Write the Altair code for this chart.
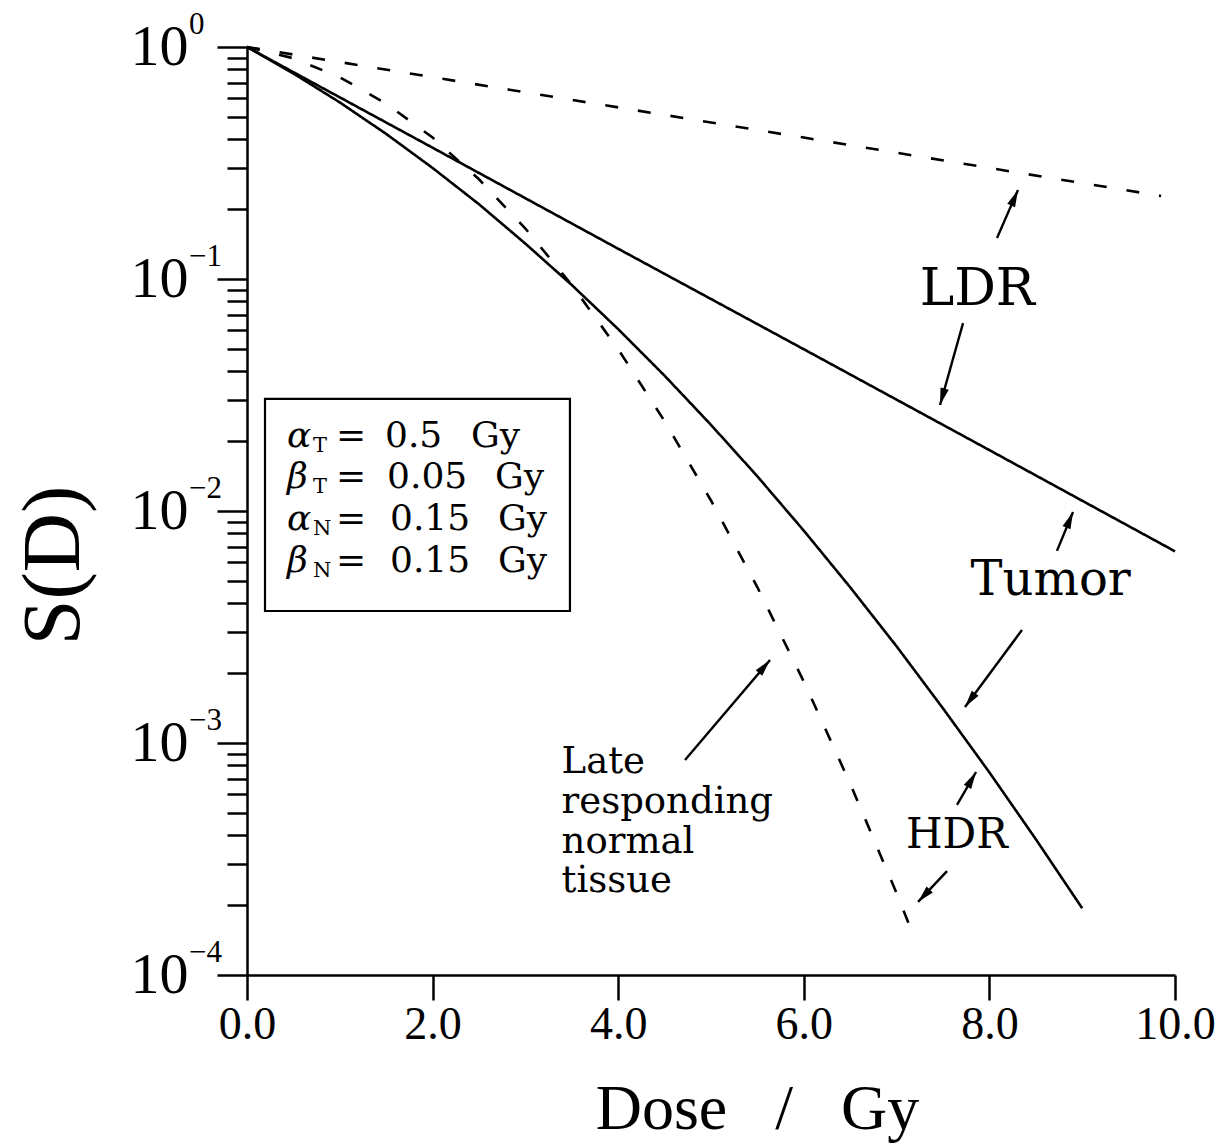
import math
import altair as alt
import pandas as pd

# ---------------- values ----------------
tumor_ldr_dose = [0, 2, 4, 6, 8, 10]
tumor_ldr_surv = [1.0, 0.368, 0.135, 0.0498, 0.0183, 0.0067]

tumor_hdr_dose = [0, 0.5, 1, 1.5, 2, 2.5, 3, 3.5, 4, 4.5, 5, 5.5, 6, 6.5, 7, 7.5, 8, 8.5, 9]
tumor_hdr_surv = [1.0, 0.769, 0.577, 0.422, 0.301, 0.210, 0.142, 0.0942, 0.0608, 0.0383,
                  0.0235, 0.0141, 0.00823, 0.00469, 0.00261, 0.00141, 0.000747, 0.000385, 0.000194]

normal_ldr_dose = [0, 2, 4, 6, 8, 9.85]
normal_ldr_surv = [1.0, 0.741, 0.549, 0.407, 0.301, 0.228]

normal_hdr_dose = [0, 0.5, 1, 1.5, 2, 2.5, 3, 3.5, 4, 4.5, 5, 5.5, 6, 6.5, 7, 7.2]
normal_hdr_surv = [1.0, 0.894, 0.741, 0.570, 0.407, 0.269, 0.165, 0.0942, 0.0498, 0.0244,
                   0.0111, 0.00469, 0.00184, 0.000668, 0.000225, 0.000142]

x_ticks = [0, 2, 4, 6, 8, 10]
y_major = [1e-4, 1e-3, 1e-2, 1e-1, 1]
y_exponents = ["\u22124", "\u22123", "\u22122", "\u22121", "0"]
y_tick_values = [m * 10.0 ** e for e in range(-4, 0) for m in range(1, 10)] + [1.0]

param_symbols = ["\u03b1", "\u03b2", "\u03b1", "\u03b2"]
param_subs = ["T", "T", "N", "N"]
param_values = ["0.5", "0.05", "0.15", "0.15"]
param_unit = "Gy"

curve_labels = ["LDR", "Tumor", "HDR"]
late_label_lines = ["Late", "responding", "normal", "tissue"]

# ---------------- annotation placement (dose, log10 S) ----------------
legend_row_ly = [-1.724, -1.901, -2.082, -2.263]
legend_value_x = [1.487, 1.509, 1.541, 1.541]
legend_unit_x = [2.414, 2.672, 2.705, 2.705]

curve_label_x = [7.87, 8.66, 7.65]
curve_label_ly = [-1.112, -2.362, -3.453]
curve_label_fs = [52, 48, 42]

late_x = 3.39
late_ly = [-3.129, -3.302, -3.474, -3.642]

arrow_tail_x = [8.082, 7.716, 8.728, 8.351, 4.720, 7.651, 7.543]
arrow_tail_ly = [-0.823, -1.190, -2.172, -2.513, -3.073, -3.267, -3.552]
arrow_tip_x = [8.308, 7.468, 8.901, 7.737, 5.636, 7.856, 7.231]
arrow_tip_ly = [-0.616, -1.543, -2.004, -2.845, -2.642, -3.125, -3.685]

W, H = 928, 928

# ---------------- tables ----------------
def series(name, dash, xs, ys):
    return pd.DataFrame({"series": name, "dash": dash, "x": xs, "y": ys,
                         "order": list(range(len(xs)))})

curves = pd.concat([
    series("tumor_ldr", "solid", tumor_ldr_dose, tumor_ldr_surv),
    series("tumor_hdr", "solid", tumor_hdr_dose, tumor_hdr_surv),
    series("normal_ldr", "dashed", normal_ldr_dose, normal_ldr_surv),
    series("normal_hdr", "dashed", normal_hdr_dose, normal_hdr_surv),
], ignore_index=True)

exp_df = pd.DataFrame({"x": [-0.625] * 5, "y": y_major, "text": y_exponents})

box_df = pd.DataFrame({"x": [0.194], "x2": [3.48], "y": [10 ** -1.517], "y2": [10 ** -2.431]})

greek_df = pd.DataFrame({"x": [0.431] * 4, "y": [10 ** v for v in legend_row_ly], "text": param_symbols})
sub_df = pd.DataFrame({"x": [0.71] * 4, "y": [10 ** (v - 0.022) for v in legend_row_ly], "text": param_subs})
eq_df = pd.DataFrame({
    "x": [0.96] * 4 + legend_value_x + legend_unit_x,
    "y": [10 ** v for v in legend_row_ly] * 3,
    "text": ["="] * 4 + param_values + [param_unit] * 4,
})

lab_df = pd.DataFrame({"x": curve_label_x, "y": [10 ** v for v in curve_label_ly],
                       "text": curve_labels, "fs": curve_label_fs})
late_df = pd.DataFrame({"x": [late_x] * 4, "y": [10 ** v for v in late_ly], "text": late_label_lines})

angles = []
for tx, tly, hx, hly in zip(arrow_tail_x, arrow_tail_ly, arrow_tip_x, arrow_tip_ly):
    dx = (hx - tx) * W / 10.0
    dy = -(hly - tly) * H / 4.0
    angles.append(math.degrees(math.atan2(dx, -dy)) % 360)
arrow_df = pd.DataFrame({
    "x": arrow_tail_x, "y": [10 ** v for v in arrow_tail_ly],
    "x2": arrow_tip_x, "y2": [10 ** v for v in arrow_tip_ly],
    "ang": angles,
})

# ---------------- scales / axes ----------------
xscale = alt.Scale(domain=[0, 10], nice=False, zero=False)
yscale = alt.Scale(type="log", domain=[1e-4, 1], nice=False)

is_major = "abs(log(datum.value)/LN10 - round(log(datum.value)/LN10)) < 0.001"

xaxis = alt.Axis(
    values=x_ticks, format=".1f", grid=False,
    domainColor="black", domainWidth=2.5, tickColor="black", tickWidth=2.5, tickSize=25,
    labelFont="Liberation Serif", labelFontSize=46, labelColor="black", labelPadding=2,
    labelFlush=False, labelOverlap=False,
    title="Dose\u00a0\u00a0\u00a0/\u00a0\u00a0\u00a0Gy", titleFont="Liberation Serif", titleFontSize=64,
    titleFontWeight="normal", titleColor="black", titleX=510, titleY=153,
    titleAlign="center", titleBaseline="alphabetic",
)
yaxis = alt.Axis(
    values=y_tick_values, grid=False,
    domainColor="black", domainWidth=2.5, tickColor="black", tickWidth=2.5,
    tickSize={"condition": {"test": is_major, "value": 30}, "value": 20},
    labelExpr=f"({is_major}) ? '10' : ''",
    labelFont="Liberation Serif", labelFontSize=58, labelColor="black", labelPadding=29,
    labelOverlap=False, labelFlush=False, labelBound=False,
    title="S(D)", titleFont="Liberation Serif", titleFontSize=82, titleFontWeight="normal",
    titleColor="black", titleX=-169, titleY=518, titleAngle=270,
    titleAlign="center", titleBaseline="alphabetic",
)

X = lambda: alt.X("x:Q", scale=xscale)
Y = lambda: alt.Y("y:Q", scale=yscale)

lines = alt.Chart(curves).mark_line(color="black", strokeWidth=2.6).encode(
    x=alt.X("x:Q", scale=xscale, axis=xaxis),
    y=alt.Y("y:Q", scale=yscale, axis=yaxis),
    detail="series:N",
    order="order:Q",
    strokeDash=alt.StrokeDash("dash:N", scale=alt.Scale(domain=["solid", "dashed"],
                                                         range=[[1, 0], [13, 20]]), legend=None),
)

exps = alt.Chart(exp_df).mark_text(
    align="left", baseline="alphabetic", dy=-13, font="Liberation Serif", fontSize=31, color="black"
).encode(x=X(), y=Y(), text="text:N")

box = alt.Chart(box_df).mark_rect(fillOpacity=0, stroke="black", strokeWidth=2.2).encode(
    x=X(), x2="x2:Q", y=Y(), y2="y2:Q")

greek = alt.Chart(greek_df).mark_text(
    align="left", baseline="alphabetic", font="DejaVu Serif", fontStyle="italic", fontSize=36, color="black"
).encode(x=X(), y=Y(), text="text:N")

subs = alt.Chart(sub_df).mark_text(
    align="left", baseline="alphabetic", font="DejaVu Serif", fontSize=21, color="black"
).encode(x=X(), y=Y(), text="text:N")

eqs = alt.Chart(eq_df).mark_text(
    align="left", baseline="alphabetic", font="DejaVu Serif", fontSize=36, color="black"
).encode(x=X(), y=Y(), text="text:N")

labs = alt.Chart(lab_df).mark_text(
    align="center", baseline="alphabetic", font="DejaVu Serif", color="black"
).encode(x=X(), y=Y(), text="text:N", size=alt.Size("fs:Q", scale=None, legend=None))

late = alt.Chart(late_df).mark_text(
    align="left", baseline="alphabetic", font="DejaVu Serif", fontSize=37, color="black"
).encode(x=X(), y=Y(), text="text:N")

arrow_lines = alt.Chart(arrow_df).mark_rule(color="black", strokeWidth=2.4).encode(
    x=X(), y=Y(), x2="x2:Q", y2="y2:Q")

arrow_heads = alt.Chart(arrow_df).mark_point(
    shape="M0,0L0.55,2.2L-0.55,2.2Z", filled=True, color="black", opacity=1, size=240
).encode(
    x=alt.X("x2:Q", scale=xscale),
    y=alt.Y("y2:Q", scale=yscale),
    angle=alt.Angle("ang:Q", scale=None),
)

chart = alt.layer(
    lines, exps, box, greek, subs, eqs, labs, late, arrow_lines, arrow_heads
).properties(
    width=W, height=H,
    autosize=alt.AutoSizeParams(type="none"),
    padding={"left": 247, "top": 47, "right": 47, "bottom": 168},
    background="white",
).configure_view(stroke=None)

chart.save("out.html", embed_options={"renderer": "svg", "actions": False})
